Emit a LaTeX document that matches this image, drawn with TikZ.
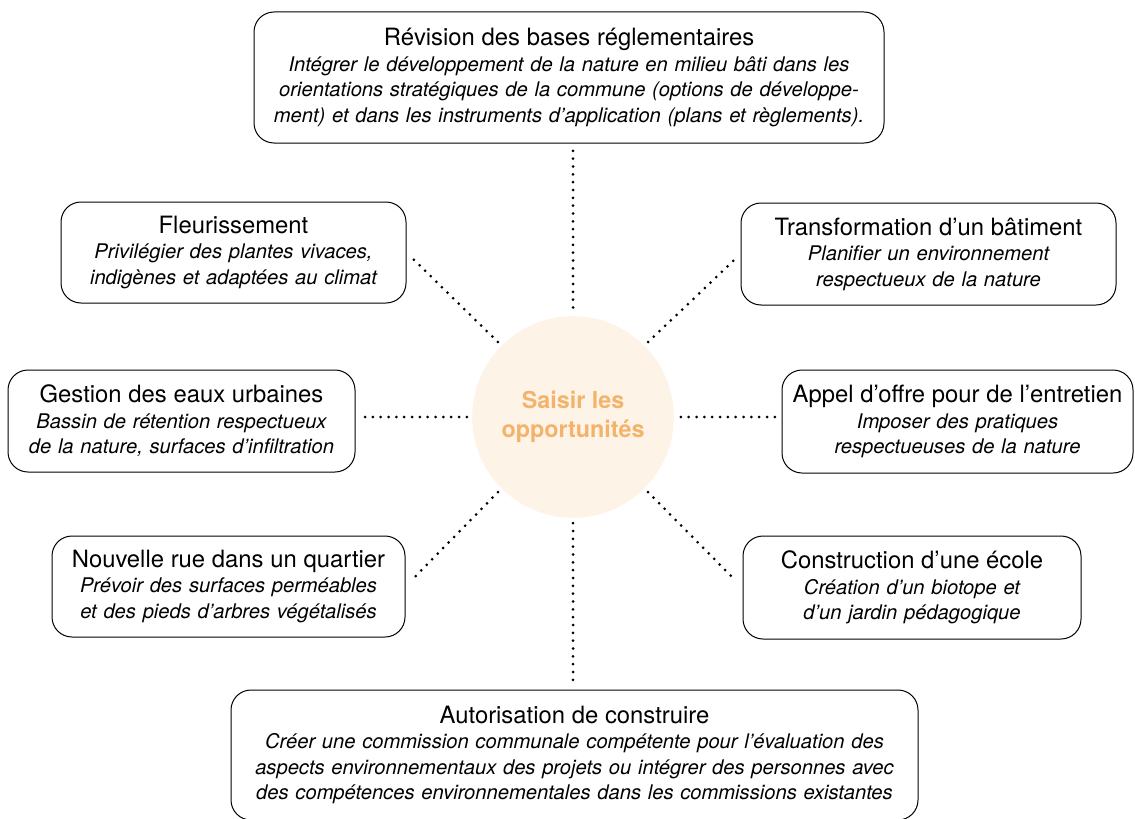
\documentclass[tikz,border=0pt]{standalone}
\usepackage{fontspec}
\setmainfont{TeX Gyre Heros}
\usetikzlibrary{positioning}

\definecolor{peach}{HTML}{FDF3E7}
\definecolor{apricot}{HTML}{F3B36A}

\newcommand{\boxtext}[2]{{\fontsize{14.3}{15.3}\selectfont #1}\\{\itshape #2}}

\tikzset{
  topic/.style={draw, rounded corners=12pt, line width=0.6pt, align=center,
    font=\fontsize{12.1}{15.3}\selectfont, inner sep=2pt},
  hubnode/.style={circle, fill=peach, text=apricot, align=center,
    minimum size=121pt, inner sep=0pt, font=\bfseries\fontsize{14}{17.4}\selectfont},
  link/.style={line width=1.8pt, line cap=round, dash pattern=on 0pt off 4.7pt}
}

\begin{document}
\begin{tikzpicture}[x=0.6pt, y=-0.6pt]
          \useasboundingbox (0,0) rectangle (1135,818);

          \node[hubnode] (hub) at (573,417) {Saisir les\\opportunités};

          \node[topic, text width=374pt, minimum height=78.6pt] (rev) at (569,77.5)
            {\boxtext{Révision des bases réglementaires}{Intégrer le développement de la nature en milieu bâti dans les\\orientations stratégiques de la commune (options de développe-\\ment) et dans les instruments d’application (plans et règlements).}};
          \node[topic, text width=203pt, minimum height=60.6pt] (fleur) at (233.5,252.5)
            {\boxtext{Fleurissement}{Privilégier des plantes vivaces,\\indigènes et adaptées au climat}};
          \node[topic, text width=221pt, minimum height=61.2pt] (trans) at (928.5,254)
            {\boxtext{Transformation d’un bâtiment}{Planifier un environnement\\respectueux de la nature}};
          \node[topic, text width=204.2pt, minimum height=61.2pt] (gest) at (181.5,421)
            {\boxtext{Gestion des eaux urbaines}{Bassin de rétention respectueux\\de la nature, surfaces d’infiltration}};
          \node[topic, text width=206.6pt, minimum height=61.8pt] (appel) at (957.5,421.5)
            {\boxtext{Appel d’offre pour de l’entretien}{Imposer des pratiques\\respectueuses de la nature}};
          \node[topic, text width=207.8pt, minimum height=60.6pt] (rue) at (228.5,586.5)
            {\boxtext{Nouvelle rue dans un quartier}{Prévoir des surfaces perméables\\et des pieds d’arbres végétalisés}};
          \node[topic, text width=198.8pt, minimum height=61.8pt] (ecole) at (912,587.5)
            {\boxtext{Construction d’une école}{Création d’un biotope et\\d’un jardin pédagogique}};
          \node[topic, text width=408.2pt, minimum height=78pt] (auto) at (574.5,755)
            {\boxtext{Autorisation de construire}{Créer une commission communale compétente pour l’évaluation des\\aspects environnementaux des projets ou intégrer des personnes avec\\des compétences environnementales dans les commissions existantes}};

          \draw
          (hub.north) edge[link, shorten <=5pt, shorten >=4pt] (hub.north |- rev.south)
          (hub.135) edge[link, shorten <=3pt, shorten >=6pt] (fleur.east)
          (hub.45) edge[link, shorten <=3pt, shorten >=6pt] (trans.west)
          (hub.west) edge[link, shorten <=3pt, shorten >=4pt] (hub.west -| gest.east)
          (hub.east) edge[link, shorten <=4pt, shorten >=4pt] (hub.east -| appel.west)
          (hub.225) edge[link, shorten <=3pt, shorten >=6pt] (rue.east)
          (hub.315) edge[link, shorten <=3pt, shorten >=6pt] (ecole.west)
          (hub.south) edge[link, shorten <=3pt, shorten >=3pt] (hub.south |- auto.north);
        \end{tikzpicture}
\end{document}
